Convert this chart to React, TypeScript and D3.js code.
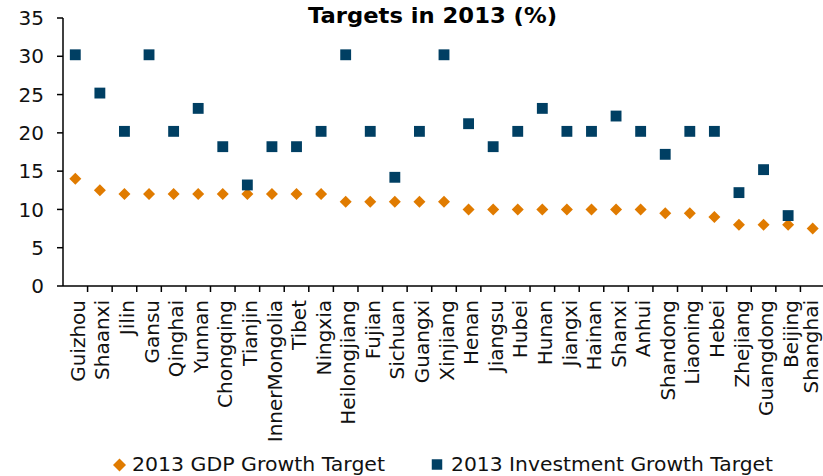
import { scaleBand, scaleLinear, symbol, symbolSquare } from "d3"

const W = 823
const H = 476

const provinces = [
  "Guizhou", "Shaanxi", "Jilin", "Gansu", "Qinghai", "Yunnan", "Chongqing", "Tianjin",
  "InnerMongolia", "Tibet", "Ningxia", "Heilongjiang", "Fujian", "Sichuan", "Guangxi",
  "Xinjiang", "Henan", "Jiangsu", "Hubei", "Hunan", "Jiangxi", "Hainan", "Shanxi", "Anhui",
  "Shandong", "Liaoning", "Hebei", "Zhejiang", "Guangdong", "Beijing", "Shanghai",
]

const gdpTarget = [
  14, 12.5, 12, 12, 12, 12, 12, 12, 12, 12, 12, 11, 11, 11, 11, 11,
  10, 10, 10, 10, 10, 10, 10, 10, 9.5, 9.5, 9, 8, 8, 8, 7.5,
]

// Shanghai has no investment target
const investTarget: (number | null)[] = [
  30, 25, 20, 30, 20, 23, 18, 13, 18, 18, 20, 30, 20, 14, 20, 30,
  21, 18, 20, 23, 20, 20, 22, 20, 17, 20, 20, 12, 15, 9, null,
]

const yTicks = [0, 5, 10, 15, 20, 25, 30, 35]

const ORANGE = "#E07B00"
const NAVY = "#003F63"
const FONT = "DejaVu Sans, Verdana, sans-serif"

// square turned 45deg, r = half diagonal
const diamondPath = (r: number) => `M0,${-r}L${r},0L0,${r}L${-r},0Z`

export default function App() {
  const margin = { left: 63, right: -2, top: 18, bottom: 190 }

  const x = scaleBand<string>()
    .domain(provinces)
    .range([margin.left, W - margin.right])

  const y = scaleLinear()
    .domain([0, 35])
    .range([H - margin.bottom, margin.top])

  const square = symbol().type(symbolSquare).size(118)()
  const bw = x.bandwidth()
  const y0 = y(0)

  return (
    <svg
      width={W}
      height={H}
      style={{ position: "absolute", left: 0, top: 0, background: "#fff" }}
      fontFamily={FONT}
    >
      {/* title */}
      <text x={308} y={23} fontWeight="bold" fontSize={22} textLength={249} lengthAdjust="spacingAndGlyphs">
        Targets in 2013 (%)
      </text>

      {/* y axis */}
      <line x1={margin.left} x2={margin.left} y1={y(35)} y2={y0} stroke="#000" strokeWidth={1.5} />
      {yTicks.map((t) => (
        <g key={t} transform={`translate(0,${y(t)})`}>
          <line x1={margin.left - 6} x2={margin.left} stroke="#000" strokeWidth={1.5} />
          <text x={44} dy="0.36em" textAnchor="end" fontSize={20} fill="#111">
            {t}
          </text>
        </g>
      ))}

      {/* x axis */}
      <line x1={margin.left} x2={W} y1={y0} y2={y0} stroke="#000" strokeWidth={1.5} />
      {provinces.map((p) => (
        <line
          key={"t" + p}
          x1={x(p)! + bw}
          x2={x(p)! + bw}
          y1={y0}
          y2={y0 + 6}
          stroke="#000"
          strokeWidth={1.5}
        />
      ))}
      {provinces.map((p) => {
        const cx = Math.min(x(p)! + bw / 2 + 2, W - 13)
        return (
          <text
            key={"l" + p}
            transform={`translate(${cx},${300}) rotate(-90)`}
            dy="0.38em"
            textAnchor="end"
            fontSize={20}
            fill="#111"
          >
            {p}
          </text>
        )
      })}

      {/* GDP growth target */}
      {provinces.map((p, i) => (
        <path
          key={"g" + p}
          d={diamondPath(6)}
          transform={`translate(${x(p)! + bw / 2},${y(gdpTarget[i])})`}
          fill={ORANGE}
        />
      ))}

      {/* investment growth target */}
      {provinces.map((p, i) =>
        investTarget[i] == null ? null : (
          <path
            key={"v" + p}
            d={square}
            transform={`translate(${x(p)! + bw / 2},${y(investTarget[i]!) - 1.5})`}
            fill={NAVY}
          />
        )
      )}

      {/* legend */}
      <path d={diamondPath(6.5)} transform="translate(119.5,465)" fill={ORANGE} />
      <text x={132} y={471} fontSize={19} fill="#111" textLength={253} lengthAdjust="spacingAndGlyphs">
        2013 GDP Growth Target
      </text>
      <path d={symbol().type(symbolSquare).size(110)()} transform="translate(437,464.5)" fill={NAVY} />
      <text x={451} y={471} fontSize={19} fill="#111" textLength={322} lengthAdjust="spacingAndGlyphs">
        2013 Investment Growth Target
      </text>
    </svg>
  )
}
